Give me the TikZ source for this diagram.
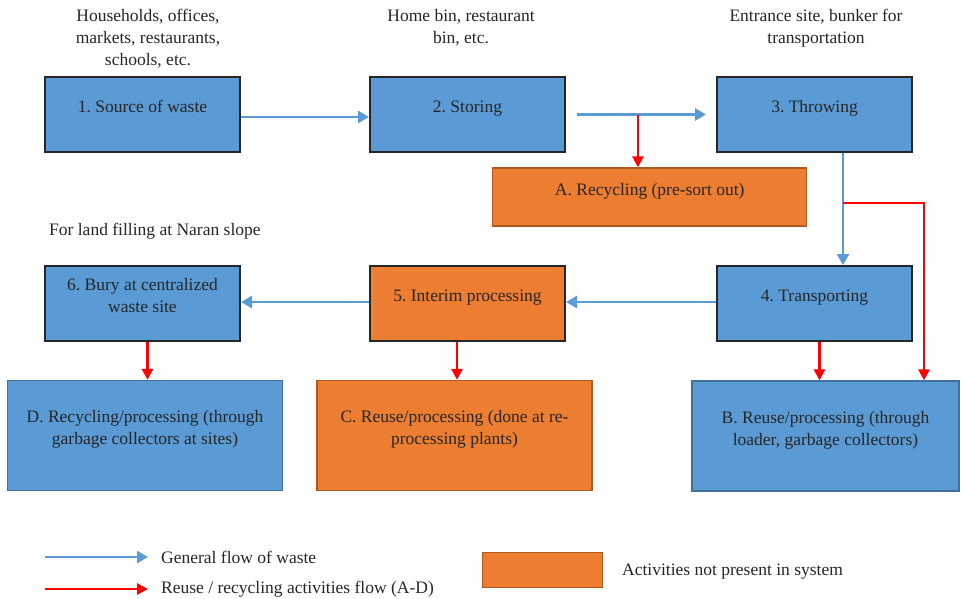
\documentclass[tikz,border=0pt]{standalone}
\usepackage{fontspec}
\setmainfont{Liberation Serif}
\frenchspacing
\usetikzlibrary{arrows.meta,positioning,calc}
\definecolor{wBlue}{HTML}{5B9BD5}
\definecolor{wBlueEdge}{HTML}{41719C}
\definecolor{wOrange}{HTML}{ED7D31}
\definecolor{wOrangeEdge}{HTML}{AE5A21}
\definecolor{wRed}{HTML}{FF0000}
\definecolor{wInk}{HTML}{262626}
\definecolor{wEdge}{HTML}{262626}

\begin{document}
\begin{tikzpicture}[
		x=1pt,y=-1pt,
		every node/.style={font=\fontsize{17.5}{22}\selectfont,text=wInk},
		stage/.style={
			draw=wEdge,line width=2pt,fill=wBlue,
			minimum width=195pt,minimum height=75pt,inner sep=0pt,
			align=center,execute at end node={\rule[-16pt]{0pt}{1pt}}
		},
		outlet/.style={
			draw=wBlueEdge,line width=1.3pt,fill=wBlue,
			minimum height=110pt,inner sep=0pt,
			align=center,execute at end node={\rule[-16pt]{0pt}{1pt}}
		},
		absent/.style={fill=wOrange,draw=wOrangeEdge},
		note/.style={align=center,inner sep=0pt},
		flow/.style={wBlue,line width=2.6pt,-{Triangle[length=11pt,width=12pt]}},
		reuse/.style={wRed,line width=2.8pt,-{Triangle[length=11pt,width=11pt]}}
		]
		\useasboundingbox (0,0) rectangle (961,598);

		% notes above the stages
		\node[note] (n1) at (148,39) {Households, offices,\\markets, restaurants,\\schools, etc.};
		\node[note] (n2) at (461,28) {Home bin, restaurant\\bin, etc.};
		\node[note] (n3) at (816,28) {Entrance site, bunker for\\transportation};
		\node[note,anchor=west] (n6) at (49,231) {For land filling at Naran slope};

		% main stages
		\node[stage] (s1) at (142.5,114.5) {1. Source of waste};
		\node[stage] (s2) at (467.5,114.5) {2. Storing};
		\node[stage] (s3) at (814.5,114.5) {3. Throwing};
		\node[stage] (s4) at (814.5,303.5) {4. Transporting};
		\node[stage,fill=wOrange] (s5) at (467.5,303.5) {5. Interim processing};
		\node[stage] (s6) at (142.5,303.5) {6. Bury at centralized\\waste site};

		% reuse and recycling outlets
		\node[outlet,absent,minimum width=314pt,minimum height=58pt] (ra) at (649.7,197) {A. Recycling (pre-sort out)};
		\node[outlet,minimum width=267pt] (rb) at (825.5,436) {B. Reuse/processing (through\\loader, garbage collectors)};
		\node[outlet,absent,minimum width=275pt] (rc) at (454.5,435.5) {C. Reuse/processing (done at re-\\processing plants)};
		\node[outlet,minimum width=275pt] (rd) at (145,435.5) {D. Recycling/processing (through\\garbage collectors at sites)};

		\coordinate (split) at (638,114.5);
		\coordinate (drop) at (843,114.5);
		\coordinate (fork) at (843,203);
		\coordinate (bend) at (924,203);

		% general flow
		\draw[flow] (s1.east |- 0,117) -- (s2.west |- 0,117);
		\draw[flow,shorten <=11pt,shorten >=10pt] (s2.east) -- (s3.west);
		\draw[flow] (s3.south -| drop) -- (s4.north -| drop);
		\draw[flow] (s4.west |- 0,302) -- (s5.east |- 0,302);
		\draw[flow] (s5.west |- 0,302) -- (s6.east |- 0,302);

		% reuse / recycling flow
		\draw[reuse] (split) -- (split |- ra.north);
		\draw[reuse] (fork) -- (bend) -- (bend |- rb.north);
		\draw[reuse] ([xshift=5]s4.south) -- ([xshift=5]s4.south |- rb.north);
		\draw[reuse] (s5.south -| 457,0) -- (rc.north -| 457,0);
		\draw[reuse] ([xshift=5]s6.south) -- ([xshift=5]s6.south |- rd.north);

		% legend
		\coordinate (k1a) at (45,557);
		\coordinate (k1b) at (148,557);
		\coordinate (k2a) at (45,589);
		\coordinate (k2b) at (148,589);
		\draw[flow] (k1a) -- (k1b);
		\draw[reuse] (k2a) -- (k2b);
		\node[note,anchor=west] (k1) at (161,557) {General flow of waste};
		\node[note,anchor=west] (k2) at (161,589) {Reuse / recycling activities flow (A-D)};
		\node[absent,line width=1.3pt,minimum width=120pt,minimum height=35pt,inner sep=0pt] (k3) at (542.5,570) {};
		\node[note,anchor=west] (k4) at (622,572) {Activities not present in system};
	\end{tikzpicture}
\end{document}
